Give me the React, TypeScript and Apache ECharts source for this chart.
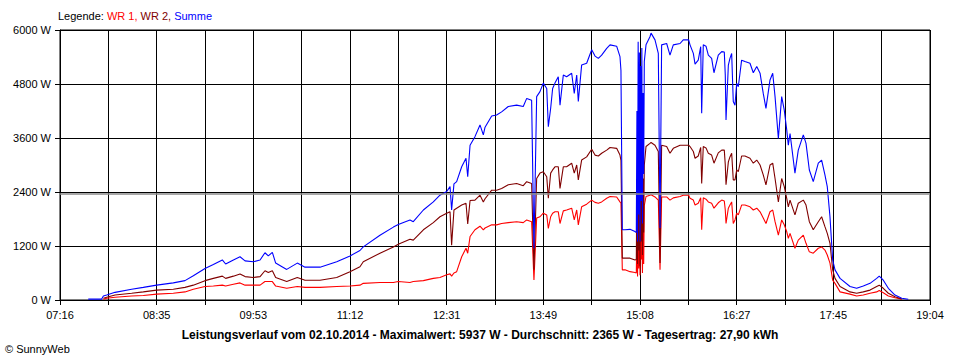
import React, { useEffect, useRef } from 'react';
import * as echarts from 'echarts';

// x axis: minutes after 07:16, up to 19:04
const START_MIN = 7 * 60 + 16;
const SPAN_MIN = 708;
const GRID_STEP = SPAN_MIN / 18;

const legendLabel = 'Legende: ';
const seriesNames = ['WR 1', 'WR 2', 'Summe'];
const titleText =
  'Leistungsverlauf vom 02.10.2014 - Maximalwert: 5937 W - Durchschnitt: 2365 W - Tagesertrag: 27,90 kWh';
const copyrightText = '\u00A9 SunnyWeb';
const averageW = 2365;

// minutes after 07:16
const minutes = [
  23.0, 33.9, 35.3, 38.0, 44.8, 58.3, 67.8, 78.7, 92.2, 101.7,
  108.5, 118.0, 124.8, 132.1, 134.8, 141.1, 146.5, 150.6, 157.3, 162.8,
  166.8, 169.5, 172.8, 175.5, 184.5, 193.1, 199.4, 211.6, 225.2, 236.0,
  244.1, 246.8, 260.4, 271.3, 275.3, 284.8, 287.5, 295.7, 303.8, 309.2,
  314.7, 317.4, 318.7, 320.6, 322.8, 326.9, 330.4, 331.8, 333.7, 337.7,
  341.8, 344.5, 345.9, 351.3, 355.3, 359.4, 364.8, 371.6, 377.0, 379.8,
  383.8, 385.7, 387.9, 390.6, 393.3, 396.1, 397.4, 399.3, 400.9, 402.8,
  405.5, 406.9, 409.6, 412.3, 416.4, 418.5, 420.5, 421.8, 424.5, 428.6,
  432.7, 435.4, 438.1, 440.8, 444.9, 447.6, 453.0, 455.7, 456.5, 457.6,
  459.8, 463.9, 467.9, 469.0, 469.5, 470.0, 470.5, 471.0, 471.5, 472.0,
  472.5, 473.0, 473.5, 474.0, 474.5, 475.0, 475.5, 476.9, 480.1, 481.0,
  484.2, 486.9, 488.3, 489.6, 493.7, 496.4, 499.1, 504.6, 507.2, 511.6,
  512.7, 515.4, 516.8, 519.4, 521.4, 522.2, 523.5, 525.7, 527.6, 530.3,
  532.2, 535.7, 538.5, 540.6, 541.4, 542.0, 543.9, 545.2, 546.6, 547.9,
  549.3, 550.7, 552.0, 554.7, 557.4, 561.5, 564.2, 567.0, 569.7, 572.3,
  574.5, 577.8, 580.0, 581.9, 584.6, 587.3, 589.4, 591.4, 592.7, 594.1,
  598.1, 600.8, 604.9, 607.1, 609.8, 613.0, 617.1, 619.8, 622.5, 624.4,
  626.6, 628.8, 630.7, 634.8, 642.9, 648.3, 653.7, 659.2, 664.6, 666.7,
  670.0, 674.1, 679.5, 685.0, 690.3,
];

const wr1 = [
  null, null, 15, 40, 60, 90, 100, 130, 150, 180,
  240, 300, 310, 330, 310, 350, 380, 330, 330, 330,
  410, 410, 410, 310, 260, 300, 280, 280, 300, 310,
  330, 370, 390, 390, 410, 390, 410, 430, 480, 500,
  560, 580, 530, 600, 630, 960, 1150, 1040, 1410, 1560,
  1640, 1560, 1600, 1670, 1670, 1700, 1720, 1740, 1720, 1780,
  1740, 445, 1820, 1850, 1930, 1890, 1590, 1850, 1930, 1960,
  1960, 1700, 1980, 2000, 2040, 1780, 2000, 1670, 2070, 2130,
  2220, 2170, 2150, 2180, 2260, 2300, 2290, 2180, 2150, 670,
  670, 630, 610, 600, 1600, 520, 2200, 700, 2400, 550,
  2850, 900, 1700, 600, 1900, 800, 2100, 2300, 2330, 2340,
  2290, 2220, 670, 2290, 2290, 2220, 2270, 2300, 2330, 2330,
  2260, 2220, 2110, 2150, 2270, 1560, 2270, 2240, 2180, 2150,
  2040, 2160, 2220, 2200, 2000, 1700, 2040, 2110, 2180, 1700,
  1780, 1930, 1890, 2110, 2110, 2070, 2000, 2040, 1960, 1820,
  1700, 1960, 2000, 1740, 1440, 1780, 1670, 1520, 1370, 1480,
  1150, 1330, 1440, 1260, 1070, 1040, 1150, 1180, 1110, 1000,
  820, 440, 370, 180, 130, 90, 110, 150, 180, 210,
  160, 90, 50, 20, null,
];

const wr2 = [
  null, null, 40, 60, 110, 150, 180, 220, 240, 280,
  330, 430, 480, 530, 480, 530, 580, 520, 500, 520,
  650, 610, 650, 500, 410, 500, 440, 440, 500, 630,
  740, 850, 1040, 1180, 1240, 1350, 1330, 1560, 1720, 1850,
  1930, 1960, 1220, 2000, 2040, 2110, 2150, 1690, 2210, 2220,
  2330, 2180, 2250, 2440, 2440, 2480, 2560, 2590, 2540, 2630,
  2590, 670, 2700, 2820, 2850, 2740, 2260, 2820, 2890, 2960,
  2960, 2480, 2960, 2960, 3040, 2820, 3000, 2670, 3110, 3180,
  3350, 3220, 3200, 3260, 3330, 3390, 3370, 3220, 3100, 930,
  930, 930, 890, 900, 2600, 800, 3300, 1100, 3100, 750,
  2900, 1300, 3200, 1000, 2700, 1500, 3000, 3410, 3480, 3500,
  3440, 3300, 820, 3440, 3410, 3260, 3370, 3440, 3440, 3440,
  3410, 3300, 3150, 3200, 3390, 2590, 3410, 3380, 3260, 3220,
  3040, 3270, 3330, 3330, 3000, 2560, 3070, 3180, 3260, 2670,
  2670, 2890, 2850, 3200, 3200, 3150, 3040, 3110, 3000, 2780,
  2560, 3000, 3040, 2700, 2180, 2700, 2520, 2260, 2070, 2220,
  1890, 2150, 2220, 2110, 1740, 1560, 1740, 1850, 1630, 1480,
  1260, 670, 480, 300, 180, 150, 180, 220, 300, 330,
  260, 150, 70, 20, null,
];

const summe = [
  20, 20, 90, 110, 170, 240, 280, 330, 380, 430,
  540, 700, 790, 890, 800, 890, 960, 870, 850, 890,
  1050, 980, 1060, 820, 680, 820, 730, 730, 850, 980,
  1100, 1180, 1440, 1620, 1680, 1780, 1740, 2000, 2180, 2330,
  2410, 2520, 2000, 2580, 2630, 2960, 3150, 2740, 3440, 3630,
  3890, 3670, 3840, 4090, 4110, 4180, 4300, 4330, 4300, 4480,
  4440, 1150, 4520, 4630, 4820, 4700, 3850, 4260, 4700, 4820,
  4960, 4330, 5000, 4960, 5040, 4590, 5000, 4410, 5220, 5260,
  5560, 5420, 5370, 5440, 5590, 5670, 5640, 5410, 5100, 1560,
  1560, 1570, 1520, 1500, 4200, 1300, 5740, 1900, 5500, 1300,
  5200, 2200, 5600, 1700, 4600, 2800, 5300, 5670, 5850, 5930,
  5780, 5480, 1600, 5670, 5700, 5440, 5670, 5700, 5780, 5780,
  5670, 5480, 5240, 5330, 5630, 4150, 5670, 5640, 5440, 5370,
  5050, 5440, 5520, 5510, 5000, 4000, 5220, 5370, 5480, 4410,
  4330, 4820, 4740, 5330, 5300, 5260, 5050, 5190, 5040, 4590,
  4260, 4890, 5040, 4520, 3590, 4520, 4220, 3780, 3440, 3700,
  2820, 3330, 3670, 3480, 2890, 2630, 3040, 3110, 2780, 2520,
  1850, 890, 670, 480, 300, 260, 310, 370, 480, 530,
  440, 260, 110, 40, 15,
];

const seriesColors = ['#ff0000', '#800000', '#0000ff'];
const FONT = 'Arial, "Liberation Sans", sans-serif';

function pairs(values: (number | null)[]) {
  return minutes.map((t, i) => [t, values[i]]);
}

function clock(v: number) {
  const m = Math.round(START_MIN + v);
  const h = Math.floor(m / 60);
  const mm = m % 60;
  return `${String(h).padStart(2, '0')}:${String(mm).padStart(2, '0')}`;
}

export default function App() {
  const ref = useRef<HTMLDivElement>(null);

  useEffect(() => {
    if (!ref.current) return;
    const chart = echarts.init(ref.current, undefined, { renderer: 'svg' });
    const option: any = {
      animation: false,
      backgroundColor: '#ffffff',
      title: [
        {
          left: 58,
          top: 10,
          padding: 0,
          text: `{k|${legendLabel}}{a|${seriesNames[0]}, }{b|${seriesNames[1]}, }{c|${seriesNames[2]}}`,
          textStyle: {
            fontSize: 11,
            fontWeight: 'normal',
            fontFamily: FONT,
            rich: {
              k: { color: '#000000', fontSize: 11, fontFamily: FONT },
              a: { color: seriesColors[0], fontSize: 11, fontFamily: FONT },
              b: { color: seriesColors[1], fontSize: 11, fontFamily: FONT },
              c: { color: seriesColors[2], fontSize: 11, fontFamily: FONT },
            },
          },
        },
        {
          left: 'center',
          top: 329,
          padding: 0,
          text: titleText,
          textStyle: { fontSize: 12, fontWeight: 'bold', fontFamily: FONT, color: '#000' },
        },
        {
          left: 5,
          top: 343,
          padding: 0,
          text: copyrightText,
          textStyle: { fontSize: 11, fontWeight: 'normal', fontFamily: FONT, color: '#000' },
        },
      ],
      grid: {
        left: 60,
        right: 30,
        top: 30,
        bottom: 60,
        show: true,
        borderColor: '#000',
        borderWidth: 1,
        backgroundColor: '#fff',
        outerBoundsMode: 'none',
      },
      xAxis: {
        type: 'value',
        min: 0,
        max: SPAN_MIN,
        interval: GRID_STEP,
        axisLine: { show: true, lineStyle: { color: '#000', width: 1 } },
        axisTick: { show: true, length: 5, lineStyle: { color: '#000' } },
        splitLine: { show: true, lineStyle: { color: '#000', width: 1 } },
        axisLabel: {
          interval: 0,
          margin: 9,
          color: '#000',
          fontSize: 11,
          fontFamily: FONT,
          showMinLabel: true,
          showMaxLabel: true,
          formatter: (v: number) => {
            const k = Math.round(v / GRID_STEP);
            if (k % 2 !== 0) return '';
            return clock(v);
          },
        },
      },
      yAxis: {
        type: 'value',
        min: 0,
        max: 6000,
        interval: 1200,
        axisLine: { show: true, lineStyle: { color: '#000', width: 1 } },
        axisTick: { show: true, length: 5, lineStyle: { color: '#000' } },
        splitLine: { show: true, lineStyle: { color: '#000', width: 1 } },
        axisLabel: {
          margin: 9,
          color: '#000',
          fontSize: 11,
          fontFamily: FONT,
          formatter: (v: number) => `${v} W`,
        },
      },
      series: [
        {
          name: seriesNames[0],
          type: 'line',
          data: pairs(wr1),
          showSymbol: false,
          symbol: 'none',
          connectNulls: false,
          lineStyle: { color: seriesColors[0], width: 1.1 },
          z: 2,
        },
        {
          name: seriesNames[1],
          type: 'line',
          data: pairs(wr2),
          showSymbol: false,
          symbol: 'none',
          connectNulls: false,
          lineStyle: { color: seriesColors[1], width: 1.1 },
          z: 3,
        },
        {
          name: seriesNames[2],
          type: 'line',
          data: pairs(summe),
          showSymbol: false,
          symbol: 'none',
          connectNulls: false,
          lineStyle: { color: seriesColors[2], width: 1.1 },
          z: 4,
          markLine: {
            silent: true,
            symbol: 'none',
            label: { show: false },
            lineStyle: { color: '#8a8a8a', type: 'solid', width: 1.5 },
            data: [{ yAxis: averageW }],
            z: 6,
          },
        },
      ],
    };
    chart.setOption(option);
    return () => chart.dispose();
  }, []);

  return (
    <div
      ref={ref}
      style={{ position: 'fixed', left: 0, top: 0, width: 960, height: 360, background: '#fff' }}
    />
  );
}
